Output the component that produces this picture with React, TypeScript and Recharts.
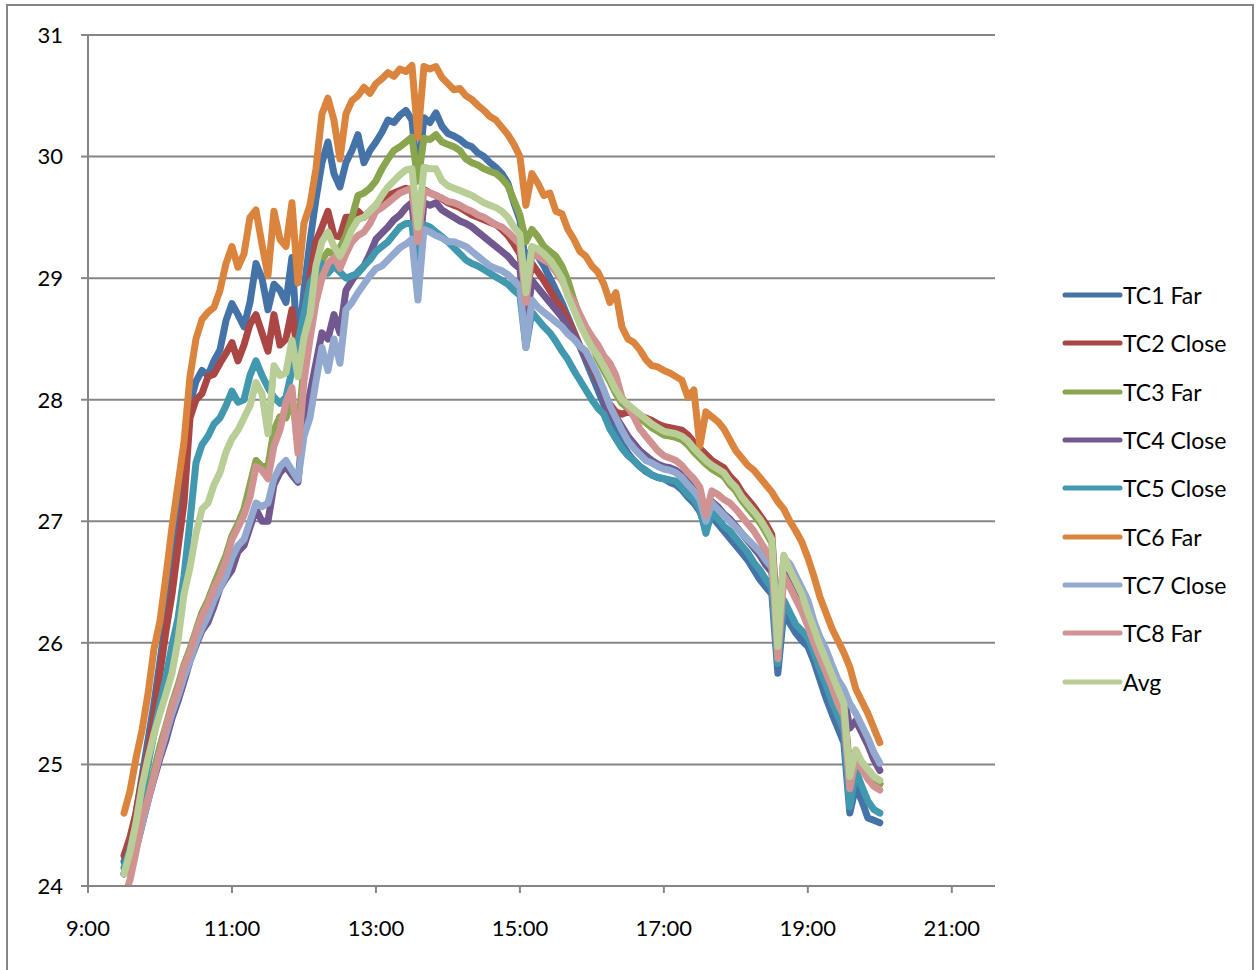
import { LineChart, Line, XAxis, YAxis, CartesianGrid, Legend } from "recharts";

// readings every 5 minutes from 9:30 to 20:00
const START_HOUR = 9.5;
const STEP_HOURS = 5 / 60;

const TC1_FAR = [
  24.2, 24.35, 24.6, 24.9, 25.2, 25.5, 25.85, 26.2, 26.55, 26.95, 27.4, 27.97,
  28.15, 28.24, 28.2, 28.32, 28.41, 28.65, 28.79, 28.7, 28.6, 28.8, 29.12, 29.0,
  28.74, 28.95, 28.9, 28.8, 29.17, 28.38, 28.9, 29.3, 29.65, 29.95, 30.12, 29.86,
  29.75, 29.95, 30.05, 30.18, 29.95, 30.05, 30.12, 30.2, 30.3, 30.28, 30.34, 30.38,
  30.3, 29.8, 30.32, 30.28, 30.36, 30.25, 30.19, 30.17, 30.14, 30.1, 30.08, 30.03,
  30.0, 29.95, 29.91, 29.86, 29.78, 29.62, 29.48, 29.1, 29.25, 29.18, 29.1, 29.0,
  28.9, 28.8, 28.68, 28.56, 28.44, 28.32, 28.2, 28.08, 27.96, 27.84, 27.74, 27.64,
  27.56, 27.5, 27.45, 27.41, 27.38, 27.36, 27.35, 27.32, 27.3, 27.26, 27.2, 27.15,
  27.08, 26.95, 27.04, 26.98, 26.92, 26.86, 26.8, 26.74, 26.68, 26.6, 26.52, 26.46,
  26.4, 25.75, 26.26, 26.16, 26.08, 26.02, 25.97, 25.85, 25.7, 25.55, 25.42, 25.3,
  25.18, 24.6, 24.82, 24.7, 24.56, 24.54, 24.52,
];

const TC2_CLOSE = [
  24.25, 24.4, 24.6, 24.87, 25.1, 25.4, 25.75, 26.1, 26.4, 26.78, 27.15, 27.85,
  28.0, 28.05, 28.19, 28.21, 28.3, 28.38, 28.47, 28.32, 28.45, 28.62, 28.7, 28.55,
  28.4, 28.7, 28.45, 28.5, 28.74, 28.35, 28.7, 29.0, 29.3, 29.42, 29.55, 29.35,
  29.34, 29.5, 29.5, 29.55, 29.5, 29.55, 29.6, 29.65, 29.68, 29.7, 29.72, 29.74,
  29.72, 29.35, 29.73, 29.7, 29.68, 29.65, 29.62, 29.6, 29.58, 29.55, 29.52, 29.5,
  29.48, 29.46, 29.44, 29.4, 29.35, 29.28, 29.2, 28.85, 29.12, 29.05, 28.98, 28.9,
  28.82, 28.75, 28.66, 28.55, 28.44, 28.35, 28.26, 28.15, 28.05, 27.96, 27.9, 27.88,
  27.9, 27.88, 27.87, 27.85, 27.83, 27.8, 27.78, 27.77, 27.76, 27.75, 27.71, 27.65,
  27.6, 27.55, 27.5, 27.47, 27.44, 27.37, 27.32, 27.24, 27.18, 27.12, 27.05, 26.98,
  26.89, 26.1, 26.69, 26.57, 26.47, 26.37, 26.19, 26.07, 25.95, 25.83, 25.71, 25.57,
  25.49, 24.95, 25.1, 25.0, 24.93, 24.87, 24.84,
];

const TC3_FAR = [
  24.1, 24.2, 24.35, 24.55, 24.75, 24.95, 25.15, 25.32, 25.5, 25.65, 25.82, 25.95,
  26.1, 26.25, 26.35, 26.48, 26.6, 26.72, 26.88, 26.98, 27.1, 27.3, 27.5, 27.45,
  27.45, 27.75, 27.86, 27.85, 28.0, 27.7, 28.3, 28.74, 28.95, 29.15, 29.22, 29.2,
  29.25, 29.35, 29.5, 29.68, 29.7, 29.74, 29.8, 29.9, 29.98, 30.05, 30.08, 30.12,
  30.16, 29.8, 30.15, 30.14, 30.18, 30.12, 30.1, 30.08, 30.05, 29.98, 29.95, 29.93,
  29.9, 29.88, 29.86, 29.82, 29.76, 29.64, 29.52, 29.3, 29.4, 29.34, 29.26, 29.22,
  29.18, 29.1, 28.98, 28.82, 28.68, 28.55, 28.45, 28.33, 28.24, 28.15, 28.05, 27.97,
  27.93, 27.89, 27.85, 27.81, 27.77, 27.74, 27.71, 27.7, 27.69, 27.67, 27.63, 27.57,
  27.52, 27.47, 27.43, 27.4, 27.37, 27.3, 27.25, 27.17, 27.11, 27.05, 26.99, 26.91,
  26.82, 25.95, 26.69, 26.57, 26.47, 26.37, 26.19, 26.07, 25.95, 25.83, 25.71, 25.57,
  25.49, 24.88, 25.09, 24.99, 24.93, 24.87, 24.84,
];

const TC4_CLOSE = [
  24.1, 24.15, 24.3, 24.5, 24.7, 24.88, 25.05, 25.2, 25.38, 25.52, 25.68, 25.85,
  25.98, 26.1, 26.17, 26.3, 26.45, 26.53, 26.6, 26.75, 26.8, 26.95, 27.1, 27.0,
  27.0, 27.3, 27.4, 27.45, 27.38, 27.32, 27.85, 28.05, 28.3, 28.55, 28.5, 28.7,
  28.55, 28.9, 28.98, 29.05, 29.1, 29.2, 29.32, 29.37, 29.42, 29.48, 29.52, 29.58,
  29.62, 29.1, 29.62, 29.6, 29.62, 29.56, 29.53, 29.5, 29.47, 29.45, 29.42, 29.38,
  29.34, 29.3, 29.26, 29.22, 29.18, 29.12, 29.08, 28.6, 28.98, 28.92, 28.86, 28.8,
  28.74, 28.68, 28.6, 28.52, 28.44, 28.36, 28.28, 28.18, 28.0, 27.8, 27.86, 27.78,
  27.7, 27.64, 27.58, 27.54, 27.5, 27.47, 27.45, 27.44, 27.42, 27.38, 27.32, 27.27,
  27.2, 27.0, 27.16, 27.12, 27.06, 27.02, 26.96, 26.9, 26.84, 26.78, 26.72, 26.64,
  26.58, 26.0, 26.62, 26.58, 26.48, 26.38, 26.28, 26.12, 26.0, 25.9, 25.76, 25.65,
  25.56, 25.3, 25.36, 25.26, 25.16, 25.04, 24.95,
];

const TC5_CLOSE = [
  24.15, 24.3, 24.5, 24.75, 25.0, 25.25, 25.5, 25.72, 25.98, 26.2, 26.55, 27.0,
  27.48, 27.63, 27.7, 27.8, 27.85, 27.95, 28.07, 27.98, 28.0, 28.2, 28.32, 28.2,
  28.1, 28.02, 27.97, 28.02, 28.24, 28.47, 28.71, 28.96, 29.05, 29.12, 29.04, 29.1,
  29.05, 29.0, 29.02, 29.04, 29.1, 29.15, 29.22, 29.26, 29.3, 29.36, 29.42, 29.45,
  29.45, 29.0, 29.44, 29.42, 29.38, 29.34, 29.3, 29.25, 29.2, 29.15, 29.12, 29.1,
  29.07, 29.04, 29.01, 28.98, 28.95, 28.9, 28.86, 28.43, 28.72, 28.66, 28.6, 28.55,
  28.48, 28.4, 28.33, 28.24, 28.16, 28.08, 28.0, 27.93, 27.88, 27.76, 27.68, 27.6,
  27.54, 27.5, 27.45, 27.42, 27.38, 27.36, 27.35, 27.34, 27.33, 27.28, 27.22, 27.18,
  27.1, 26.9, 27.08, 27.02, 26.96, 26.92, 26.86, 26.8, 26.74, 26.66, 26.6, 26.52,
  26.45, 25.83, 26.35, 26.25, 26.15, 26.1, 26.05, 25.92, 25.78, 25.66, 25.52, 25.4,
  25.28, 24.65, 24.95, 24.82, 24.7, 24.63, 24.6,
];

const TC6_FAR = [
  24.6, 24.78, 25.05, 25.28, 25.58, 25.95, 26.18, 26.55, 26.95, 27.3, 27.65, 28.19,
  28.5, 28.66, 28.72, 28.76, 28.9, 29.12, 29.26, 29.09, 29.2, 29.5, 29.56, 29.28,
  29.02, 29.55, 29.32, 29.26, 29.62, 28.96, 29.45, 29.6, 29.9, 30.35, 30.48, 30.3,
  29.98, 30.35, 30.46, 30.5, 30.57, 30.52, 30.6, 30.64, 30.69, 30.66, 30.72, 30.7,
  30.75, 30.16, 30.74, 30.72, 30.74, 30.65, 30.6, 30.55, 30.56, 30.5, 30.47, 30.42,
  30.38, 30.33, 30.3, 30.24, 30.18, 30.1, 30.0, 29.6, 29.86, 29.78, 29.68, 29.7,
  29.55, 29.53, 29.4, 29.32, 29.22, 29.18, 29.1, 29.05, 28.95, 28.8, 28.88, 28.6,
  28.5, 28.47, 28.41, 28.33, 28.28, 28.27, 28.24, 28.22, 28.19, 28.16, 28.02, 28.08,
  27.62, 27.9, 27.86, 27.82, 27.76, 27.67, 27.58, 27.52, 27.46, 27.42, 27.36, 27.3,
  27.24, 27.16, 27.1, 27.0, 26.92, 26.83, 26.7, 26.55, 26.38, 26.25, 26.12, 26.02,
  25.92, 25.8, 25.62, 25.52, 25.42, 25.3, 25.18,
];

const TC7_CLOSE = [
  24.1, 24.15, 24.3, 24.5, 24.7, 24.9, 25.08, 25.25, 25.42, 25.56, 25.72, 25.85,
  26.0, 26.12, 26.22, 26.35, 26.45, 26.55, 26.7, 26.8, 26.85, 27.0, 27.15, 27.12,
  27.15, 27.35, 27.45, 27.5, 27.42, 27.34, 27.7, 27.85, 28.15, 28.43, 28.24, 28.5,
  28.3, 28.74, 28.8, 28.88, 28.95, 29.02, 29.08, 29.1, 29.15, 29.2, 29.25, 29.28,
  29.32, 28.82, 29.4, 29.38, 29.35, 29.33, 29.3, 29.3, 29.28, 29.26, 29.22, 29.18,
  29.14, 29.1, 29.08, 29.06, 29.03, 28.98, 28.93, 28.43, 28.82, 28.76, 28.72, 28.68,
  28.64, 28.6, 28.54, 28.5, 28.44, 28.4, 28.3, 28.2, 28.08, 27.95, 27.85, 27.75,
  27.66, 27.6, 27.55, 27.5, 27.48, 27.45, 27.43, 27.42, 27.4, 27.36, 27.3, 27.25,
  27.18, 27.0, 27.15, 27.1, 27.05, 27.0, 26.95, 26.9, 26.85, 26.8, 26.75, 26.68,
  26.62, 26.1, 26.7, 26.65, 26.55, 26.45, 26.35, 26.18, 26.05, 25.95, 25.82, 25.7,
  25.62, 25.5, 25.42, 25.32, 25.22, 25.1, 25.01,
];

const TC8_FAR = [
  23.9, 24.05, 24.28, 24.55, 24.72, 24.9, 25.1, 25.3, 25.48, 25.62, 25.8, 25.92,
  26.08, 26.22, 26.32, 26.45, 26.55, 26.68, 26.85, 26.95, 27.05, 27.2, 27.45, 27.42,
  27.35, 27.62, 27.75, 27.98, 28.1, 27.56, 28.15, 28.5, 28.8, 29.0, 29.12, 29.17,
  29.08, 29.2, 29.3, 29.35, 29.38, 29.45, 29.55, 29.58, 29.62, 29.66, 29.7, 29.72,
  29.74, 29.3, 29.72, 29.7, 29.68, 29.66, 29.63, 29.62, 29.6, 29.57, 29.55, 29.52,
  29.5, 29.47, 29.44, 29.42, 29.38, 29.33, 29.28, 28.8, 29.2, 29.18, 29.15, 29.12,
  29.05, 28.98, 28.88, 28.8, 28.7, 28.6, 28.52, 28.45, 28.36, 28.3, 28.2, 28.02,
  27.94, 27.86, 27.76, 27.7, 27.64, 27.58, 27.54, 27.52, 27.5, 27.46, 27.4, 27.35,
  27.28, 27.05, 27.25, 27.22, 27.18, 27.15, 27.1, 27.04, 26.98, 26.92, 26.84, 26.76,
  26.68, 25.87, 26.55, 26.46, 26.36, 26.26, 26.14, 26.0, 25.88, 25.76, 25.64, 25.5,
  25.4, 24.8, 25.05, 24.96, 24.88, 24.82, 24.79,
];

const AVG = [
  24.1, 24.28, 24.52, 24.82, 25.05, 25.25, 25.42, 25.58, 25.75, 26.02, 26.4, 26.62,
  26.9, 27.1, 27.15, 27.3, 27.4, 27.57, 27.68, 27.75, 27.85, 27.95, 28.14, 28.05,
  27.72, 28.28, 28.2, 28.22, 28.49, 28.19, 28.51, 28.7, 29.1, 29.3, 29.38, 29.26,
  29.18, 29.28, 29.4, 29.48, 29.5, 29.55, 29.6, 29.68, 29.75, 29.8, 29.85, 29.89,
  29.9, 29.42, 29.91, 29.9, 29.9, 29.8, 29.76, 29.74, 29.72, 29.7, 29.68, 29.65,
  29.62, 29.6, 29.58, 29.55, 29.5, 29.42, 29.36, 28.88, 29.26, 29.24, 29.2, 29.15,
  29.08, 29.0, 28.85, 28.74, 28.62, 28.52, 28.43, 28.36, 28.27, 28.18, 28.08, 28.0,
  27.96, 27.92, 27.88, 27.84, 27.8, 27.77, 27.74, 27.73, 27.72, 27.7, 27.66, 27.6,
  27.55, 27.5, 27.46, 27.43, 27.4, 27.33, 27.28, 27.2, 27.14, 27.08, 27.02, 26.94,
  26.85, 25.97, 26.72, 26.6, 26.5, 26.4, 26.25, 26.12, 25.98, 25.86, 25.74, 25.62,
  25.5, 24.9, 25.12, 25.02, 24.96, 24.9, 24.87,
];

const SERIES = [
  { key: "tc1", name: "TC1 Far", color: "#4572A7", values: TC1_FAR },
  { key: "tc2", name: "TC2 Close", color: "#AA4643", values: TC2_CLOSE },
  { key: "tc3", name: "TC3 Far", color: "#89A54E", values: TC3_FAR },
  { key: "tc4", name: "TC4 Close", color: "#71588F", values: TC4_CLOSE },
  { key: "tc5", name: "TC5 Close", color: "#4198AF", values: TC5_CLOSE },
  { key: "tc6", name: "TC6 Far", color: "#DB843D", values: TC6_FAR },
  { key: "tc7", name: "TC7 Close", color: "#93A9CF", values: TC7_CLOSE },
  { key: "tc8", name: "TC8 Far", color: "#D19392", values: TC8_FAR },
  { key: "avg", name: "Avg", color: "#B9CD96", values: AVG },
];

const X_TICKS = [9, 11, 13, 15, 17, 19, 21];
const Y_TICKS = [24, 25, 26, 27, 28, 29, 30, 31];

const FONT = "Lato, 'Liberation Sans', sans-serif";
const AXIS_GREY = "#868686";

const data = TC1_FAR.map((_, i) => {
  const row: Record<string, number> = { t: START_HOUR + i * STEP_HOURS };
  SERIES.forEach((s) => {
    row[s.key] = s.values[i];
  });
  return row;
});

const renderLegend = () => (
  <div style={{ fontFamily: FONT, fontSize: 23, color: "#000" }}>
    {SERIES.map((s) => (
      <div
        key={s.key}
        style={{ display: "flex", alignItems: "center", height: 48.3 }}
      >
        <svg width={62} height={8}>
          <line
            x1={4}
            y1={4}
            x2={59}
            y2={4}
            stroke={s.color}
            strokeWidth={5}
            strokeLinecap="round"
          />
        </svg>
        <span>{s.name}</span>
      </div>
    ))}
  </div>
);

const App = () => {
  return (
    <div
      style={{
        position: "absolute",
        left: 0,
        top: 0,
        width: 1257,
        height: 970,
        background: "#fff",
        overflow: "hidden",
      }}
    >
      <div
        style={{
          position: "absolute",
          left: 6,
          top: 4,
          width: 1244,
          height: 990,
          border: `2px solid ${AXIS_GREY}`,
        }}
      />
      <LineChart
        width={1257}
        height={970}
        data={data}
        margin={{ top: 35, right: 262, left: 28, bottom: 24 }}
        style={{ position: "absolute", left: 0, top: 0 }}
      >
        <CartesianGrid vertical={false} stroke={AXIS_GREY} strokeWidth={2} />
        <XAxis
          dataKey="t"
          type="number"
          domain={[9, 21.6]}
          ticks={X_TICKS}
          interval={0}
          height={60}
          tickSize={7}
          tickMargin={27}
          tickFormatter={(h: number) => `${h}:00`}
          axisLine={{ stroke: AXIS_GREY, strokeWidth: 2 }}
          tickLine={{ stroke: AXIS_GREY, strokeWidth: 2 }}
          tick={{ fill: "#000", fontSize: 22, fontFamily: FONT }}
        />
        <YAxis
          type="number"
          domain={[24, 31]}
          ticks={Y_TICKS}
          allowDataOverflow
          width={60}
          tickSize={7}
          tickMargin={18}
          axisLine={{ stroke: AXIS_GREY, strokeWidth: 2 }}
          tickLine={{ stroke: AXIS_GREY, strokeWidth: 2 }}
          tick={{ fill: "#000", fontSize: 22, fontFamily: FONT }}
        />
        <Legend
          layout="vertical"
          align="center"
          verticalAlign="middle"
          content={renderLegend}
          wrapperStyle={{ left: 1061, top: 271, width: 192 }}
        />
        {SERIES.map((s) => (
          <Line
            key={s.key}
            type="linear"
            dataKey={s.key}
            name={s.name}
            stroke={s.color}
            strokeWidth={7}
            strokeLinejoin="round"
            strokeLinecap="round"
            dot={false}
            activeDot={false}
            isAnimationActive={false}
          />
        ))}
      </LineChart>
    </div>
  );
};

export default App;
